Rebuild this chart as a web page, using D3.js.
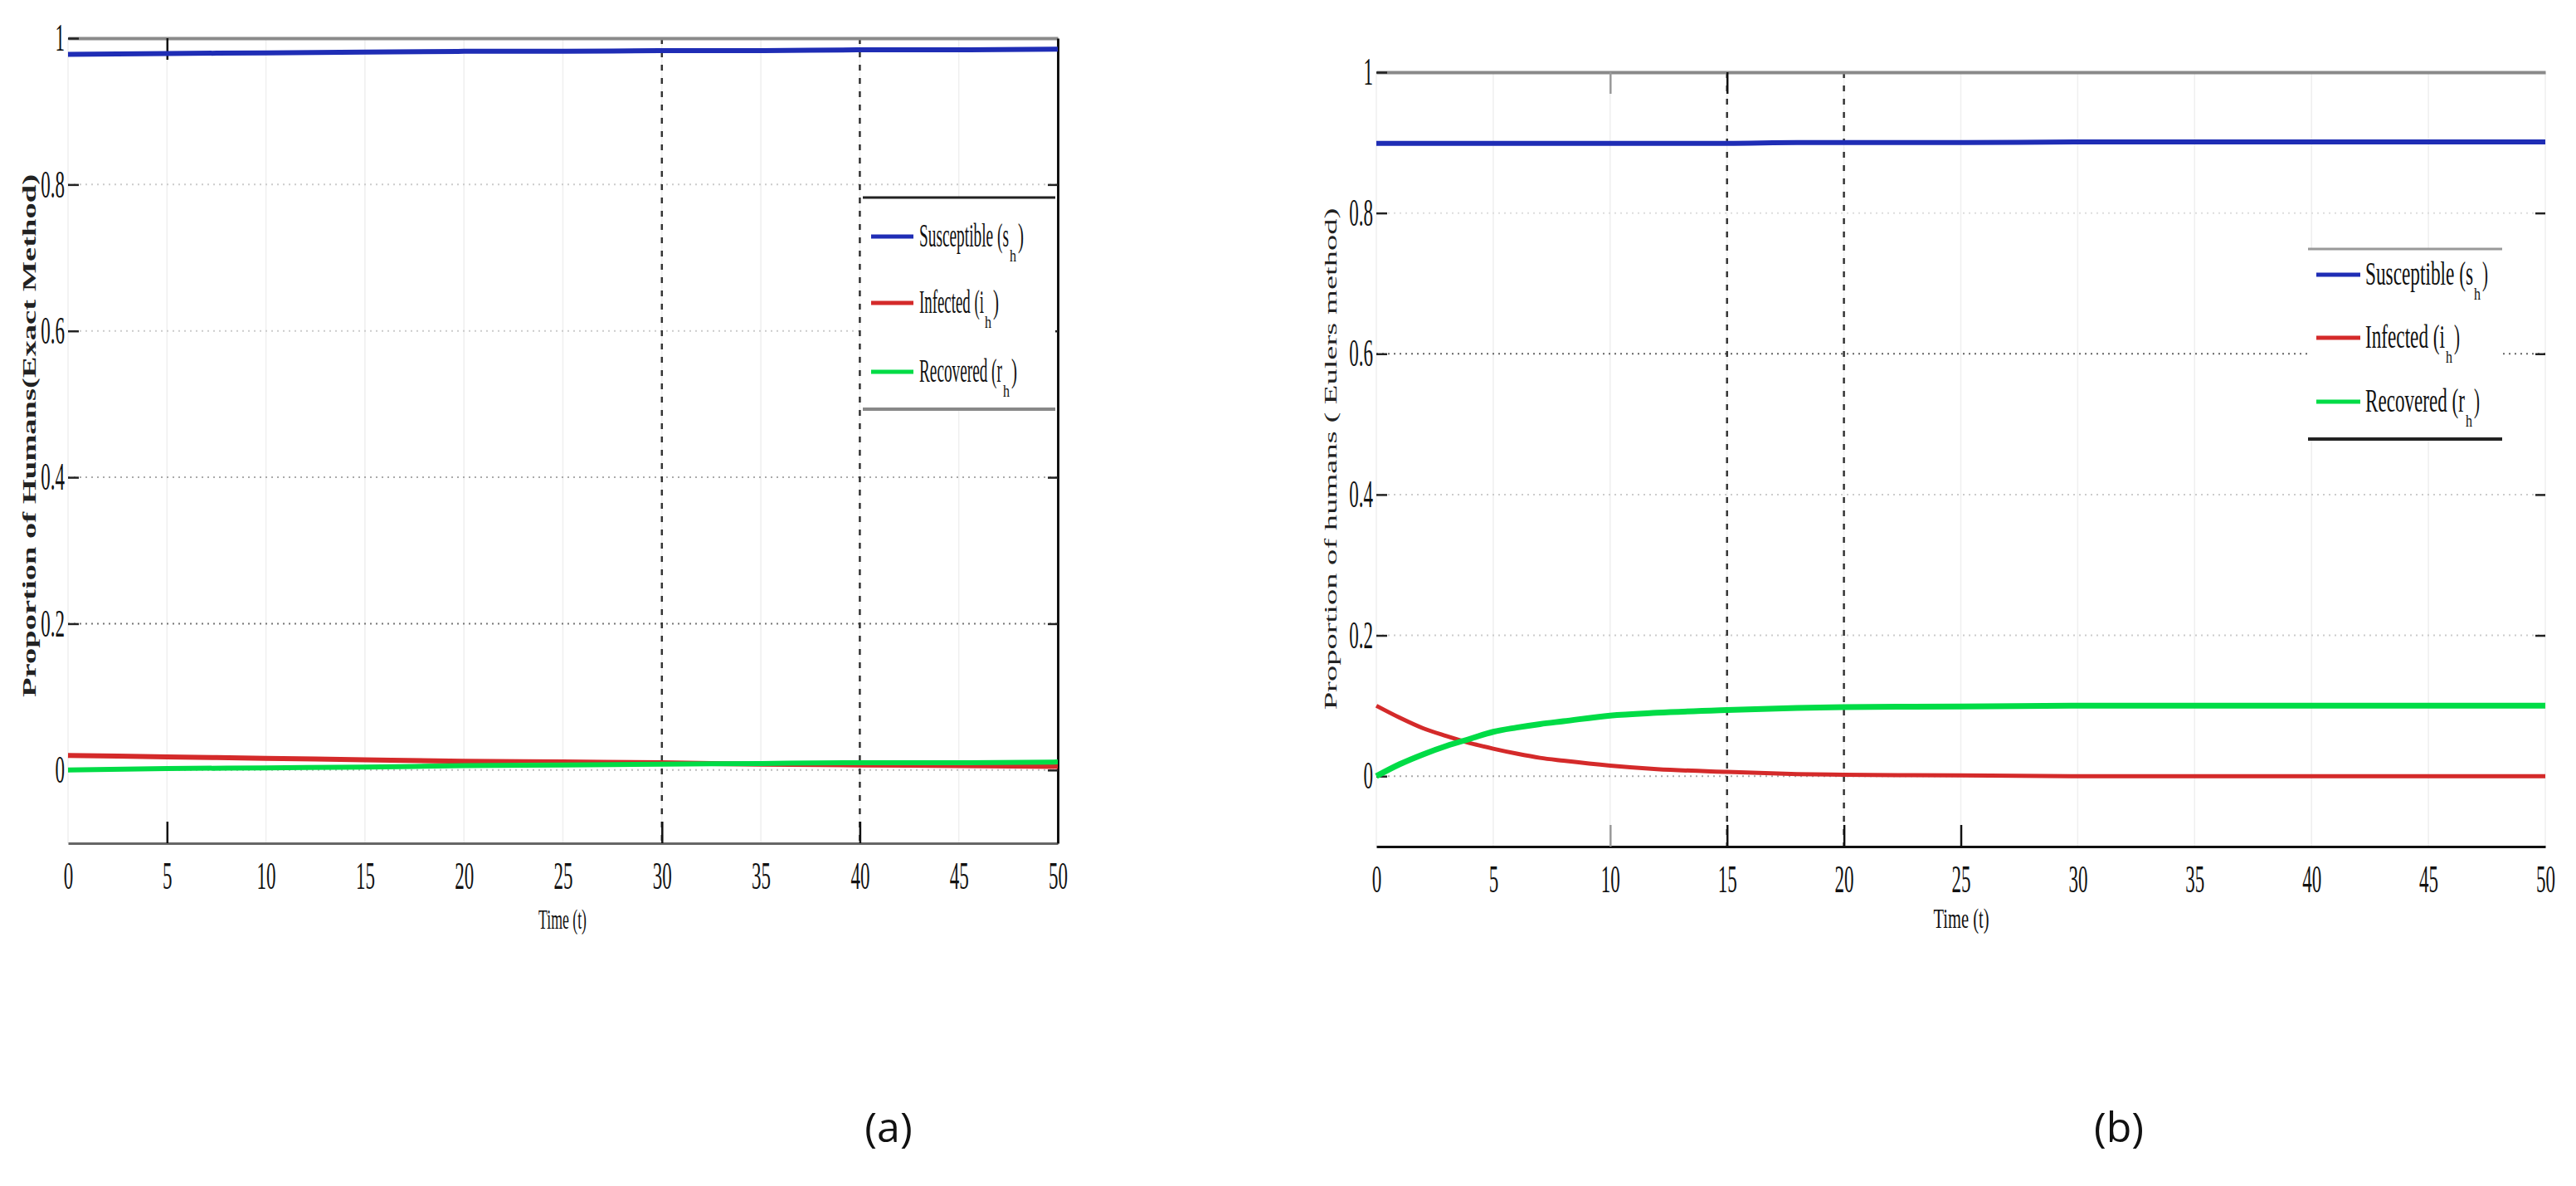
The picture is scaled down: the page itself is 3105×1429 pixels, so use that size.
<!DOCTYPE html>
<html>
<head>
<meta charset="utf-8">
<script src="https://cdn.jsdelivr.net/npm/d3@7"></script>
<style>
  body { margin: 0; background: #fff; }
  svg { display: block; }
  .tick text { font-family: "Liberation Serif", serif; fill: #111; }
</style>
</head>
<body>
<svg id="chart" width="3105" height="1429"></svg>
<script>
// (a) exact method
const timesA = [0, 5, 10, 15, 20, 25, 30, 35, 40, 45, 50];
const susceptibleA = [0.978, 0.979, 0.980, 0.981, 0.982, 0.982, 0.983, 0.983, 0.984, 0.984, 0.985];
const infectedA = [0.020, 0.018, 0.016, 0.014, 0.012, 0.011, 0.010, 0.008, 0.007, 0.006, 0.005];
const recoveredA = [0.000, 0.002, 0.003, 0.004, 0.006, 0.007, 0.008, 0.009, 0.010, 0.010, 0.011];

// (b) Euler's method
const timesB = [0, 1, 2, 3, 4, 5, 6, 7, 8, 10, 12, 15, 18, 20, 25, 30, 35, 40, 45, 50];
const susceptibleB = [0.899, 0.899, 0.899, 0.899, 0.899, 0.899, 0.899, 0.899, 0.899, 0.899, 0.899, 0.899, 0.900, 0.900, 0.900, 0.901, 0.901, 0.901, 0.901, 0.901];
const infectedB = [0.100, 0.083, 0.068, 0.057, 0.047, 0.039, 0.032, 0.026, 0.022, 0.015, 0.010, 0.006, 0.003, 0.002, 0.001, 0.000, 0.000, 0.000, 0.000, 0.000];
const recoveredB = [0.000, 0.017, 0.031, 0.043, 0.053, 0.063, 0.069, 0.074, 0.078, 0.086, 0.090, 0.094, 0.097, 0.098, 0.099, 0.100, 0.100, 0.100, 0.100, 0.100];

const xTicks = [0, 5, 10, 15, 20, 25, 30, 35, 40, 45, 50];
const yTicks = [0, 0.2, 0.4, 0.6, 0.8, 1];
const legendLabels = ["Susceptible", "Infected", "Recovered"];
const legendSymbols = ["s", "i", "r"];

const colors = ["#1f2db5", "#d42a2a", "#00dc46"];
const svg = d3.select("#chart");

const panels = [
  {
    left: 82, right: 1275, top: 46, bottom: 1016,
    times: timesA, series: [susceptibleA, infectedA, recoveredA],
    widths: [6, 6, 6],
    markTimes: [30, 40],
    topTicks: [5], bottomTicks: [5, 30, 40], grayTicks: [],
    gridColors: { 0: "#bbb", 0.2: "#777", 0.4: "#aaa", 0.6: "#ccc", 0.8: "#ccc" },
    topColor: "#8a8a8a", bottomColor: "#666", borderRight: true,
    yTitle: "Proportion of Humans(Exact Method)", yTitlePos: [35, 525], yTitleLen: 630, yTitleSize: 24,
    xTitlePos: [678, 1107], xTitleLen: 58,
    legend: { x1: 1040, x2: 1272, top: 238, bottom: 493, rows: [285, 365, 448], lineX: [1050, 1101],
              textX: 1108, textLen: [108, 78, 100], topColor: "#222", bottomColor: "#888" },
    caption: "(a)", captionPos: [1071, 1358]
  },
  {
    left: 1659, right: 3068, top: 87, bottom: 1020,
    times: timesB, series: [susceptibleB, infectedB, recoveredB],
    widths: [6, 5, 7],
    markTimes: [15, 20],
    topTicks: [10, 15], bottomTicks: [10, 15, 20, 25], grayTicks: [10],
    gridColors: { 0: "#aaa", 0.2: "#ccc", 0.4: "#ccc", 0.6: "#666", 0.8: "#ddd" },
    topColor: "#8a8a8a", bottomColor: "#111", borderRight: false,
    yTitle: "Proportion of humans ( Eulers method)", yTitlePos: [1603, 553], yTitleLen: 605, yTitleSize: 22,
    xTitlePos: [2364, 1106], xTitleLen: 67,
    legend: { x1: 2782, x2: 3016, top: 300, bottom: 529, rows: [331, 407, 484], lineX: [2792, 2845],
              textX: 2851, textLen: [130, 96, 120], topColor: "#999", bottomColor: "#222" },
    caption: "(b)", captionPos: [2554, 1358]
  }
];

function styleTickText(sel, dx) {
  sel.selectAll(".tick text")
    .attr("font-size", 46)
    .attr("transform", "scale(0.5,1)");
  if (dx !== undefined) sel.selectAll(".tick text").attr("x", dx / 0.5);
}

// squeeze or stretch a text horizontally so it spans `width` px
function fitText(parent, { x, y, rotate, width, size, anchor, weight, fill, text }) {
  const holder = parent.append("g")
    .attr("transform", `translate(${x},${y})` + (rotate ? ` rotate(${rotate})` : ""));
  const t = holder.append("text")
    .attr("text-anchor", anchor || "start")
    .attr("font-family", "Liberation Serif, serif")
    .attr("font-size", size)
    .attr("font-weight", weight || "normal")
    .attr("fill", fill || "#111")
    .text(text);
  const len = t.node().getComputedTextLength();
  t.attr("transform", `scale(${width / len},1)`);
  return t;
}

function drawPanel(p) {
  const x = d3.scaleLinear().domain([0, 50]).range([p.left, p.right]);
  const y = d3.scaleLinear().domain([-0.1, 1]).range([p.bottom, p.top]);
  const g = svg.append("g");

  // faint vertical grid
  g.append("g").selectAll("line").data(xTicks).join("line")
    .attr("x1", d => x(d)).attr("x2", d => x(d))
    .attr("y1", p.top).attr("y2", p.bottom)
    .attr("stroke", "#efefef").attr("stroke-width", 1.5);

  // horizontal dotted grid
  g.append("g").selectAll("line").data(yTicks.slice(0, 5)).join("line")
    .attr("x1", p.left).attr("x2", p.right)
    .attr("y1", d => y(d)).attr("y2", d => y(d))
    .attr("stroke", d => p.gridColors[d])
    .attr("stroke-width", 2)
    .attr("stroke-dasharray", "2,5");

  // dark dashed time marks
  g.append("g").selectAll("line").data(p.markTimes).join("line")
    .attr("x1", d => x(d)).attr("x2", d => x(d))
    .attr("y1", p.top).attr("y2", p.bottom)
    .attr("stroke", "#333").attr("stroke-width", 2.5)
    .attr("stroke-dasharray", "7,9");

  // bottom axis with labels
  const xAxisG = g.append("g")
    .attr("transform", `translate(0,${p.bottom})`)
    .call(d3.axisBottom(x).tickValues(xTicks).tickSize(0).tickPadding(22));
  xAxisG.select(".domain").attr("stroke", p.bottomColor).attr("stroke-width", 3);
  styleTickText(xAxisG);

  // bottom tick marks (pointing inward)
  g.append("g")
    .attr("transform", `translate(0,${p.bottom})`)
    .call(d3.axisBottom(x).tickValues(p.bottomTicks).tickSizeInner(-26).tickSizeOuter(0).tickFormat(""))
    .call(a => a.select(".domain").remove())
    .selectAll(".tick line")
    .attr("stroke", d => p.grayTicks.includes(d) ? "#999" : "#111")
    .attr("stroke-width", 2.5);

  // top axis line with inward ticks
  const topG = g.append("g")
    .attr("transform", `translate(0,${p.top})`)
    .call(d3.axisTop(x).tickValues(p.topTicks).tickSizeInner(-26).tickSizeOuter(0).tickFormat(""));
  topG.select(".domain").attr("stroke", p.topColor).attr("stroke-width", 4);
  topG.selectAll(".tick line")
    .attr("stroke", d => p.grayTicks.includes(d) ? "#999" : "#111")
    .attr("stroke-width", 2.5);

  // left axis: labels and inward ticks, no spine
  const yAxisG = g.append("g")
    .attr("transform", `translate(${p.left},0)`)
    .call(d3.axisLeft(y).tickValues(yTicks).tickSizeInner(-13).tickSizeOuter(0).tickPadding(4)
      .tickFormat(d => d === 0 ? "0" : d === 1 ? "1" : d3.format(".1f")(d)));
  yAxisG.select(".domain").remove();
  yAxisG.selectAll(".tick line").attr("stroke", "#222").attr("stroke-width", 2.5);
  styleTickText(yAxisG, -4);

  // right edge ticks
  const rightG = g.append("g")
    .attr("transform", `translate(${p.right},0)`)
    .call(d3.axisLeft(y).tickValues(yTicks.slice(0, 5)).tickSizeInner(12).tickSizeOuter(0).tickFormat(""));
  rightG.selectAll(".tick line").attr("stroke", "#222").attr("stroke-width", 2.5);
  if (p.borderRight) {
    rightG.select(".domain").attr("stroke", "#111").attr("stroke-width", 3);
  } else {
    rightG.select(".domain").remove();
  }

  // series
  const line = d3.line()
    .x(d => x(d.t))
    .y(d => y(d.v))
    .curve(d3.curveMonotoneX);

  p.series.forEach((values, i) => {
    const pts = p.times.map((t, k) => ({ t: t, v: values[k] }));
    g.append("path")
      .datum(pts)
      .attr("fill", "none")
      .attr("stroke", colors[i])
      .attr("stroke-width", p.widths[i])
      .attr("stroke-linejoin", "round")
      .attr("d", line);
  });

  // legend
  const L = p.legend;
  const lg = g.append("g");
  lg.append("rect")
    .attr("x", L.x1).attr("y", L.top)
    .attr("width", L.x2 - L.x1).attr("height", L.bottom - L.top)
    .attr("fill", "#fff");
  lg.append("line").attr("x1", L.x1).attr("x2", L.x2).attr("y1", L.top).attr("y2", L.top)
    .attr("stroke", L.topColor).attr("stroke-width", 3);
  lg.append("line").attr("x1", L.x1).attr("x2", L.x2).attr("y1", L.bottom).attr("y2", L.bottom)
    .attr("stroke", L.bottomColor).attr("stroke-width", 4);

  legendLabels.forEach((label, i) => {
    const ry = L.rows[i];
    lg.append("line")
      .attr("x1", L.lineX[0]).attr("x2", L.lineX[1])
      .attr("y1", ry).attr("y2", ry)
      .attr("stroke", colors[i]).attr("stroke-width", 5);
    const tx = L.textX;
    const w = L.textLen[i];
    fitText(lg, { x: tx, y: ry + 12, width: w, size: 40, text: `${label} (${legendSymbols[i]}` });
    // subscript h sits just under the symbol
    fitText(lg, { x: tx + w + 1, y: ry + 30, width: 8, size: 22, text: "h" });
    fitText(lg, { x: tx + w + 11, y: ry + 12, width: 7, size: 40, text: ")" });
  });

  // titles
  fitText(g, {
    x: p.yTitlePos[0] + 8, y: p.yTitlePos[1], rotate: -90, width: p.yTitleLen,
    size: p.yTitleSize, anchor: "middle", weight: p.borderRight ? "bold" : "normal",
    fill: "#222", text: p.yTitle
  });

  fitText(g, {
    x: p.xTitlePos[0], y: p.xTitlePos[1] + 12, width: p.xTitleLen,
    size: 34, anchor: "middle", text: "Time (t)"
  });

  g.append("text")
    .attr("x", p.captionPos[0]).attr("y", p.captionPos[1])
    .attr("text-anchor", "middle").attr("dy", "0.35em")
    .attr("font-family", "Open Sans, Noto Sans, sans-serif")
    .attr("font-size", 50)
    .attr("fill", "#111")
    .text(p.caption);
}

panels.forEach(drawPanel);
</script>
</body>
</html>
